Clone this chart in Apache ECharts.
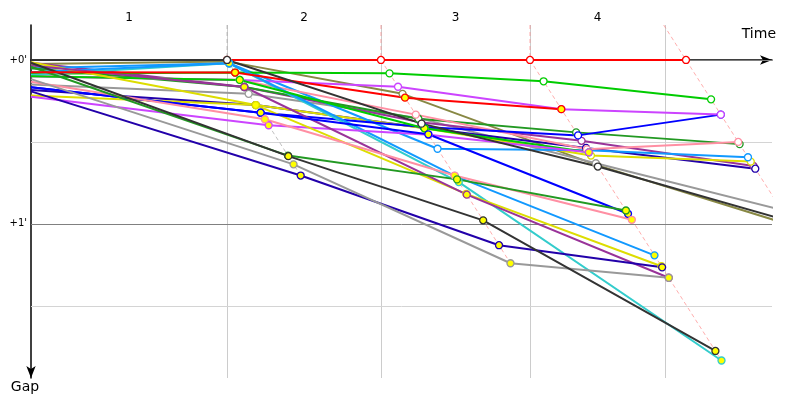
<!DOCTYPE html>
<html><head><meta charset="utf-8">
<script src="https://cdn.jsdelivr.net/npm/echarts@6/dist/echarts.min.js"></script>
<style>html,body{margin:0;padding:0;background:#fff}#c{width:800px;height:400px}</style>
</head><body><div id="c"></div>
<script>
// Leader's time (s) at start and each checkpoint
const checkpointTimes = [0, 112.6, 201.0, 286.6, 376.2];
// lap boundaries on the time axis (s)
const lapBounds = [0, 112.6, 201.0, 286.6, 364.2];
const lapLabels = ['1', '2', '3', '4'];
// gap ticks (s) and their labels
const gapTicks = [0, 60];
const gapTickLabels = ["+0'", "+1'"];
const gapGrid = [0, 30, 60, 90];

// Gaps (s) at [start, cp1, cp2, cp3, cp4]; finishers
const red       = [0,    0,    0,    0,    0];
const green     = [5,    4.6,  4.9,  7.8,  14.4];
const violet    = [6,    7.3,  9.8,  18.0, 20.0];
const blue      = [10,   19.3, 24.5, 27.6, 20.0];
const pink      = [6,    7.3,  20.0, 32.7, 30.0];
const darkgreen = [3,    9.9,  21.5, 26.5, 30.8];
const lightblue = [3,    1.2,  32.5, 33.0, 35.6];
const yellow    = [13,   16.5, 25,   35.0, 37.2];
const indigo    = [11,   16.5, 24.9, 32.2, 39.8];
const purple    = [1,    9.9,  22.8, 29.6, 38.8];
const gray      = [9,    12.4, 21.2, 37.8, 54.9];
const black     = [0,    0,    23.3, 39.0, 58.9];
const olive     = [1.5,  0.6,  12.4, 38.5, 60.5];
// lapped riders: [start, cp1, cp2, cp3]
const cyan       = [5.5,  1.2,  44.7, 110.0];
const red2       = [4.5,  4.6,  13.8, 18.0];
const green2     = [6,    7.3,  25.0, 33.8];
const violet2    = [13.5, 23.9, 27.4, 33.8];
const purple2    = [2,    9.9,  49.3, 79.7];
const yellow2    = [0.8,  16.5, 49.0, 75.5];
const blue2      = [10,   19.3, 27.2, 56.3];
const pink2      = [8,    21.7, 42.3, 58.5];
const lightblue2 = [4.5,  1.2,  42.4, 71.5];
const darkgreen2 = [2.5,  35.0, 43.7, 55.1];
const indigo2    = [11.5, 42.3, 67.8, 75.9];
const gray2      = [7,    38.2, 74.4, 79.7];
const black2     = [1,    35.2, 58.7, 106.5];

const riders = [
  ['olive', olive, '#888844', false], ['gray', gray, '#999999', false],
  ['purple', purple, '#993399', false], ['indigo', indigo, '#2200aa', false], ['yellow', yellow, '#dddd00', false],
  ['lightblue', lightblue, '#1199ff', false], ['darkgreen', darkgreen, '#229922', false], ['pink', pink, '#ff8fa3', false],
  ['blue', blue, '#0000ff', false], ['violet', violet, '#cc44ff', false], ['green', green, '#00cc00', false],
  ['cyan', cyan, '#33cccc', true], ['lightblue2', lightblue2, '#1199ff', true], ['green2', green2, '#00cc00', true],
  ['violet2', violet2, '#cc44ff', true],
  ['yellow2', yellow2, '#dddd00', true], ['purple2', purple2, '#993399', true], ['blue2', blue2, '#0000ff', true],
  ['pink2', pink2, '#ff8fa3', true], ['darkgreen2', darkgreen2, '#229922', true],
  ['indigo2', indigo2, '#2200aa', true], ['gray2', gray2, '#999999', true], ['black2', black2, '#333333', true],
  ['red2', red2, '#ff0000', true],
  ['red', red, '#ff0000', false], ['black', black, '#333333', false]
];
const guideColors = ['rgba(150,150,150,0.6)', 'rgba(255,120,120,0.6)', 'rgba(255,120,120,0.6)', 'rgba(255,120,120,0.6)'];

const gapMin = -12.8, gapMax = 116.4, timeMax = 425.6;
const font = 'Tahoma, "DejaVu Sans", sans-serif';

const series = [];
// dashed checkpoint guides
checkpointTimes.slice(1).forEach((tc, i) => {
  const cp = i + 1;
  const gs = riders.filter(r => r[1][cp] != null).map(r => r[1][cp]);
  const mg = Math.max.apply(null, gs);
  const pts = cp < 4 ? [[tc, gapMin], [tc, 0], [tc + mg, mg]] : [[tc + gapMin, gapMin], [tc + mg, mg]];
  series.push({
    type: 'line', data: pts, symbol: 'none', silent: true, z: 2,
    lineStyle: {color: guideColors[i], width: 1, type: [4, 3]},
    markLine: i === 0 ? {
      silent: true, symbol: 'none', label: {show: false}, z: 1,
      data: lapBounds.slice(1).map(b => ({xAxis: b, lineStyle: {color: '#cccccc', width: 1, type: 'solid'}}))
        .concat(gapGrid.map(g => ({yAxis: g, lineStyle: {color: (g % 60 === 0) ? '#808080' : '#d4d4d4', width: 1, type: 'solid'}})))
    } : undefined
  });
});

riders.forEach(r => {
  const [name, gaps, color, lapped] = r;
  const data = gaps.map((g, i) => {
    const t = i === 0 ? 0 : checkpointTimes[i] + g;
    if (i === 0) return {value: [t, g], symbol: 'none'};
    return {value: [t, g], itemStyle: {color: lapped ? '#ffff00' : '#ffffff', borderColor: color, borderWidth: 1.3}};
  });
  series.push({
    name, type: 'line', data, symbol: 'circle', symbolSize: 7, showSymbol: true, z: 3,
    lineStyle: {color, width: 2}, itemStyle: {color}
  });
});

const chart = echarts.init(document.getElementById('c'));
chart.setOption({
  animation: false,
  grid: {left: 31, right: 28, top: 25, bottom: 22},
  graphic: [{
    type: 'text', right: 24, top: 27,
    style: {text: 'Time', fontFamily: font, fontSize: 14, fill: '#000'}
  }],
  xAxis: {
    type: 'value', position: 'top', min: 0, max: timeMax,
    axisLine: {show: true, lineStyle: {color: '#000', width: 1.5}, symbol: ['none', 'arrow'], symbolSize: [7, 12]},
    axisTick: {show: false},
    splitLine: {show: false},
    axisLabel: {
      customValues: lapLabels.map((l, i) => (lapBounds[i] + lapBounds[i + 1]) / 2),
      formatter: (v) => {
        const i = lapLabels.findIndex((l, k) => Math.abs((lapBounds[k] + lapBounds[k + 1]) / 2 - v) < 1);
        return i >= 0 ? lapLabels[i] : '';
      },
      fontFamily: font, fontSize: 12, color: '#000', margin: 1
    }
  },
  yAxis: {
    type: 'value', inverse: true, min: gapMin, max: gapMax,
    name: 'Gap', nameLocation: 'end', nameGap: 2,
    nameTextStyle: {fontFamily: font, fontSize: 14, color: '#000', verticalAlign: 'top', align: 'center', padding: [0, 12, 0, 0]},
    axisLine: {show: true, lineStyle: {color: '#000', width: 1.5}, symbol: ['arrow', 'none'], symbolSize: [7, 12]},
    axisTick: {show: false},
    splitLine: {show: false},
    axisLabel: {
      customValues: gapTicks,
      formatter: (v) => gapTickLabels[gapTicks.indexOf(v)] || '',
      fontFamily: font, fontSize: 10, color: '#000', margin: 4
    }
  },
  series
});
</script>
</body></html>
